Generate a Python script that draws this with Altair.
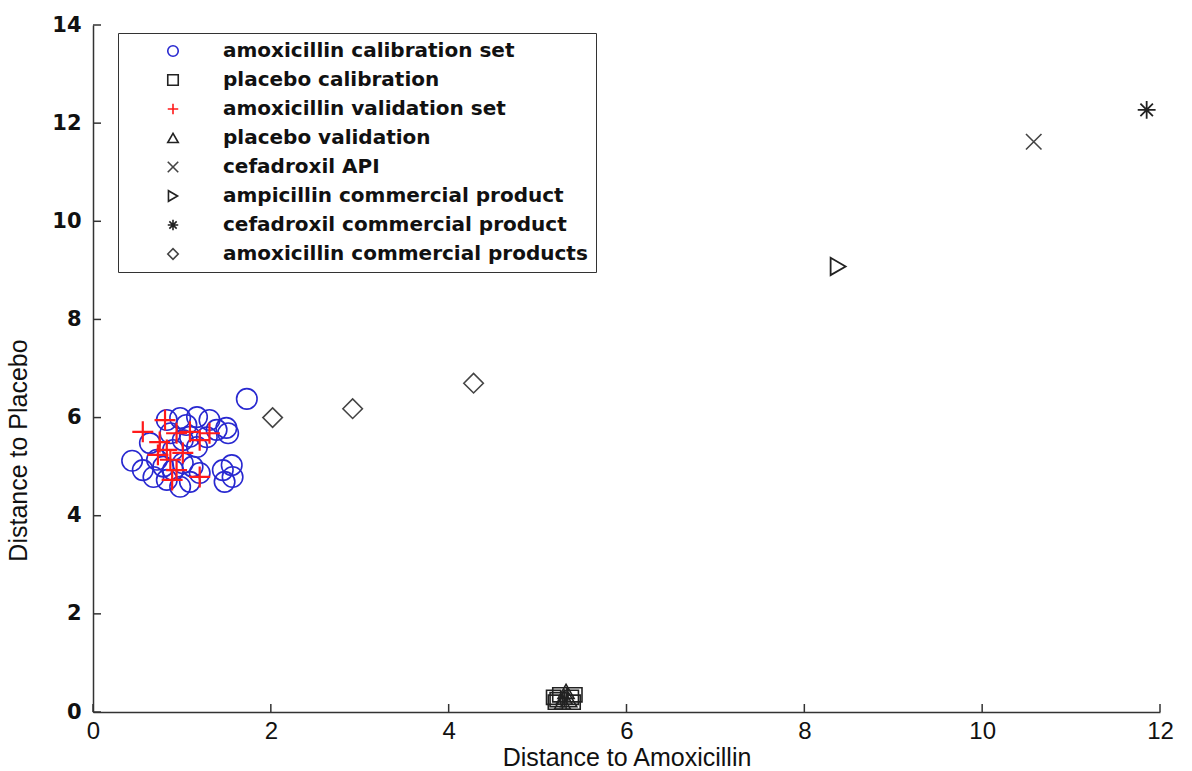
import altair as alt
import pandas as pd

# ---------------- data ----------------
series_names = [
    "amoxicillin calibration set",
    "placebo calibration",
    "amoxicillin validation set",
    "placebo validation",
    "cefadroxil API",
    "ampicillin commercial product",
    "cefadroxil commercial product",
    "amoxicillin commercial products",
]

cal_x = [0.44, 1.46, 1.57, 1.48, 1.56, 1.50, 1.52, 0.98, 1.17, 1.31, 0.83, 1.05,
         0.64, 0.72, 1.17, 1.28, 1.01, 0.56, 0.68, 0.83, 0.98, 1.09, 1.20, 0.90,
         1.12, 0.79, 1.01, 0.87, 1.39, 0.90, 1.09, 1.73]
cal_y = [5.12, 4.93, 4.79, 4.69, 5.03, 5.79, 5.68, 5.99, 6.01, 5.95, 5.95, 5.85,
         5.48, 5.14, 5.40, 5.60, 5.07, 4.93, 4.79, 4.73, 4.59, 4.69, 4.87, 4.93,
         5.00, 5.00, 5.54, 5.68, 5.75, 5.34, 5.61, 6.38]

pcal_x = [5.18, 5.22, 5.25, 5.38, 5.42, 5.20, 5.40]
pcal_y = [0.30, 0.25, 0.35, 0.30, 0.35, 0.20, 0.20]

val_x = [0.56, 0.81, 0.94, 1.09, 1.31, 1.20, 0.83, 0.73, 0.87, 0.94, 0.89, 1.20, 1.01, 0.75]
val_y = [5.71, 5.95, 5.68, 5.71, 5.68, 5.54, 5.34, 5.24, 5.14, 4.93, 4.73, 4.79, 5.28, 5.50]

pval_x = [5.32, 5.30, 5.35, 5.28]
pval_y = [0.42, 0.30, 0.25, 0.20]

cefa_api_x = [10.58]
cefa_api_y = [11.62]

ampi_x = [8.38]
ampi_y = [9.08]

cefa_prod_x = [11.85]
cefa_prod_y = [12.27]

amox_prod_x = [2.02, 2.92, 4.28]
amox_prod_y = [6.00, 6.18, 6.70]

x_ticks = [0, 2, 4, 6, 8, 10, 12]
y_ticks = [0, 2, 4, 6, 8, 10, 12, 14]

# ---------------- styles ----------------
shape_range = [
    "circle",
    "square",
    "M-1,0H1M0,-1V1",
    "triangle-up",
    "M-1,-1L1,1M-1,1L1,-1",
    "triangle-right",
    "M-1,0H1M0,-1V1M-0.7,-0.7L0.7,0.7M-0.7,0.7L0.7,-0.7",
    "diamond",
]
color_range = ["#2828d0", "#222222", "#ff1a1a", "#222222", "#444444",
               "#222222", "#222222", "#444444"]
mark_sizes = [420, 200, 440, 260, 240, 300, 320, 380]
stroke_widths = [1.6, 1.6, 2.2, 1.6, 1.6, 1.8, 1.8, 1.6]

groups = [
    (cal_x, cal_y), (pcal_x, pcal_y), (val_x, val_y), (pval_x, pval_y),
    (cefa_api_x, cefa_api_y), (ampi_x, ampi_y), (cefa_prod_x, cefa_prod_y),
    (amox_prod_x, amox_prod_y),
]
rows = []
for name, (xs, ys), sz, sw in zip(series_names, groups, mark_sizes, stroke_widths):
    for xv, yv in zip(xs, ys):
        rows.append({"x": xv, "y": yv, "series": name, "sz": sz, "sw": sw})
df = pd.DataFrame(rows)

W, H = 1067, 687

points = alt.Chart(df).mark_point(filled=False, opacity=1).encode(
    x=alt.X("x:Q", scale=alt.Scale(domain=[0, 12], nice=False, zero=False),
            axis=alt.Axis(values=x_ticks, format="d", title="Distance to Amoxicillin",
                          grid=False, ticks=False, domainColor="#333",
                          domainWidth=1.5, labelFont="Liberation Sans",
                          labelFontSize=24, labelColor="#111", labelPadding=7,
                          titleFont="Liberation Sans", titleFontSize=25,
                          titleFontWeight="normal", titleColor="#111",
                          titleBaseline="alphabetic", titleY=53,
                          labelFlush=False)),
    y=alt.Y("y:Q", scale=alt.Scale(domain=[0, 14], nice=False, zero=False),
            axis=alt.Axis(values=y_ticks, format="d", title="Distance to Placebo",
                          grid=False, ticks=False, domainColor="#333",
                          domainWidth=1.5, labelFont="DejaVu Sans",
                          labelFontWeight="bold", labelFontSize=21,
                          labelColor="#111", labelPadding=12,
                          titleFont="Liberation Sans", titleFontSize=25,
                          titleFontWeight="normal", titleColor="#111",
                          titleX=-62, titleY=425, labelFlush=False)),
    shape=alt.Shape("series:N", scale=alt.Scale(domain=series_names, range=shape_range),
                    sort=series_names,
                    legend=alt.Legend(title=None, orient="none", legendX=25, legendY=8,
                                      strokeColor="#333", fillColor="white",
                                      padding=8, symbolOffset=37, labelOffset=40,
                                      symbolSize=110, symbolStrokeWidth=1.6,
                                      labelFont="DejaVu Sans", labelFontWeight="bold",
                                      labelFontSize=20, labelColor="#111",
                                      labelLimit=600, rowPadding=9)),
    color=alt.Color("series:N", scale=alt.Scale(domain=series_names, range=color_range),
                    sort=series_names, legend=alt.Legend(title=None, orient="none",
                                                         legendX=25, legendY=8)),
    size=alt.Size("sz:Q", scale=None, legend=None),
    strokeWidth=alt.StrokeWidth("sw:Q", scale=None, legend=None),
)

xt = pd.DataFrame({"t": x_ticks})
yt = pd.DataFrame({"t": y_ticks})
xticks = alt.Chart(xt).mark_rule(color="#333", strokeWidth=1.5).encode(
    x="t:Q", y=alt.value(H), y2=alt.value(H - 8))
yticks = alt.Chart(yt).mark_rule(color="#333", strokeWidth=1.5).encode(
    y="t:Q", x=alt.value(0), x2=alt.value(8))

chart = alt.layer(points, xticks, yticks).properties(
    width=W, height=H,
    background="white",
    autosize=alt.AutoSizeParams(type="none"),
    padding={"left": 93, "top": 25, "right": 32, "bottom": 59},
).configure_view(stroke=None)

chart.save("out.html", embed_options={"renderer": "svg", "actions": False})
